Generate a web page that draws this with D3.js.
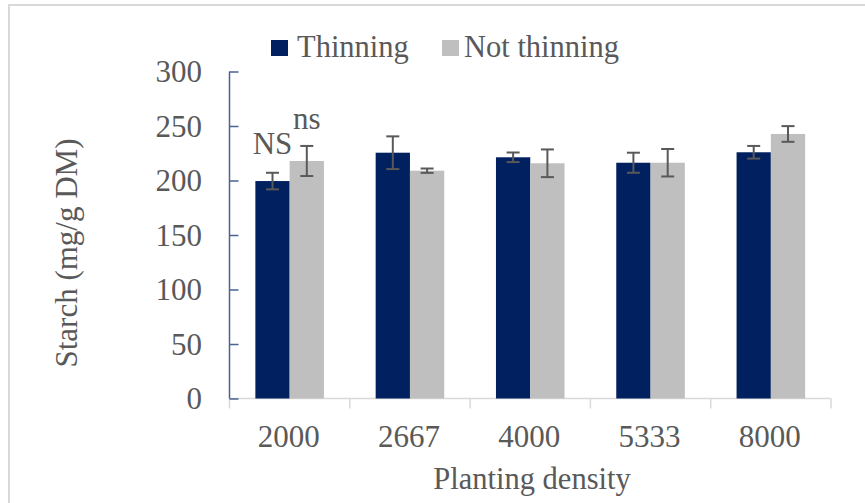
<!DOCTYPE html>
<html>
<head>
<meta charset="utf-8">
<script src="https://cdn.jsdelivr.net/npm/d3@7/dist/d3.min.js"></script>
<style>
  html, body { margin: 0; padding: 0; background: #fff; }
  svg { display: block; }
  text { font-family: "Liberation Serif", "Times New Roman", serif; fill: #595959; }
</style>
</head>
<body>
<svg id="chart" width="865" height="503"></svg>
<script>
// Planting densities on the x axis
const densities = ["2000", "2667", "4000", "5333", "8000"];
// Series names
const seriesNames = ["Thinning", "Not thinning"];
// Mean starch content (mg/g DM)
const thinning = [199.5, 225.5, 221.3, 216.3, 225.9];
const notThinning = [217.9, 209.0, 215.8, 216.3, 242.7];
// Error bar half-widths
const thinningErr = [7.6, 15.0, 4.4, 9.2, 5.8];
const notThinningErr = [13.8, 2.0, 12.7, 12.6, 7.2];
// Y axis ticks
const yTicks = [0, 50, 100, 150, 200, 250, 300];
// Significance annotations for the first group (baseline level in axis units)
const sigLabels = [
  { group: "2000", series: 0, text: "NS", value: 224 },
  { group: "2000", series: 1, text: "ns", value: 247 }
];

const colors = ["#002060", "#bfbfbf"];

const svg = d3.select("#chart");
const W = 865, H = 503;

// outer frame
svg.append("rect")
  .attr("x", 9).attr("y", 5)
  .attr("width", W + 20).attr("height", H + 20)
  .attr("fill", "none").attr("stroke", "#d9d9d9").attr("stroke-width", 2);

const plot = { left: 229.5, right: 831, top: 71.5, bottom: 398.5 };

const x0 = d3.scaleBand().domain(densities)
  .range([plot.left, plot.right]).paddingInner(0.43).paddingOuter(0.215);
const x1 = d3.scaleBand().domain([0, 1]).range([0, x0.bandwidth()]);
const y = d3.scaleLinear().domain([0, 300]).range([plot.bottom, plot.top]);

// x axis baseline and category separators
const xEdges = d3.scaleBand().domain(densities).range([plot.left, plot.right]);
const xAxisG = svg.append("g");
xAxisG.append("line")
  .attr("x1", plot.left).attr("x2", plot.right)
  .attr("y1", plot.bottom).attr("y2", plot.bottom)
  .attr("stroke", "#d9d9d9").attr("stroke-width", 1.5);
const edges = densities.map(d => xEdges(d)).concat([plot.right]);
xAxisG.selectAll("line.sep").data(edges).join("line")
  .attr("class", "sep")
  .attr("x1", d => d).attr("x2", d => d)
  .attr("y1", plot.bottom).attr("y2", plot.bottom + 10)
  .attr("stroke", "#d9d9d9").attr("stroke-width", 1.5);

// bars
const series = [
  { vals: thinning, errs: thinningErr },
  { vals: notThinning, errs: notThinningErr }
];
series.forEach((s, si) => {
  const g = svg.append("g");
  g.selectAll("rect").data(densities).join("rect")
    .attr("x", d => x0(d) + x1(si))
    .attr("width", x1.bandwidth())
    .attr("y", (d, i) => y(s.vals[i]))
    .attr("height", (d, i) => y(0) - y(s.vals[i]))
    .attr("fill", colors[si]);
});

// error bars
series.forEach((s, si) => {
  const g = svg.append("g").attr("stroke", "#595959").attr("stroke-width", 2);
  densities.forEach((d, i) => {
    const cx = x0(d) + x1(si) + x1.bandwidth() / 2;
    const hi = y(s.vals[i] + s.errs[i]);
    const lo = y(s.vals[i] - s.errs[i]);
    g.append("line").attr("x1", cx).attr("x2", cx).attr("y1", hi).attr("y2", lo);
    g.append("line").attr("x1", cx - 6.5).attr("x2", cx + 6.5).attr("y1", hi).attr("y2", hi);
    g.append("line").attr("x1", cx - 6.5).attr("x2", cx + 6.5).attr("y1", lo).attr("y2", lo);
  });
});

// y axis (ticks point into the plot)
const yAxis = d3.axisRight(y).tickValues(yTicks).tickSize(9).tickFormat("");
const yG = svg.append("g").attr("transform", `translate(${plot.left},0)`).call(yAxis);
yG.select(".domain").remove();
yG.selectAll("line").attr("stroke", "#4a6291").attr("stroke-width", 1.5);
yG.append("line")
  .attr("x1", 0).attr("x2", 0).attr("y1", plot.top).attr("y2", plot.bottom)
  .attr("stroke", "#4a6291").attr("stroke-width", 1.5);

// y tick labels
svg.append("g").selectAll("text").data(yTicks).join("text")
  .attr("x", 202).attr("y", d => y(d) + 10.5)
  .attr("text-anchor", "end")
  .attr("font-size", 31)
  .text(d => d);

// x tick labels
svg.append("g").selectAll("text").data(densities).join("text")
  .attr("x", d => x0(d) + x0.bandwidth() / 2 - 1)
  .attr("y", 446.5)
  .attr("text-anchor", "middle")
  .attr("font-size", 31)
  .text(d => d);

// axis titles
svg.append("text")
  .attr("x", 532).attr("y", 489)
  .attr("text-anchor", "middle").attr("font-size", 30.5)
  .text("Planting density");
svg.append("text")
  .attr("transform", "translate(77,253) rotate(-90)")
  .attr("text-anchor", "middle").attr("font-size", 31)
  .text("Starch (mg/g DM)");

// significance labels
svg.append("g").selectAll("text").data(sigLabels).join("text")
  .attr("x", d => x0(d.group) + x1(d.series) + x1.bandwidth() / 2)
  .attr("y", d => y(d.value))
  .attr("text-anchor", "middle")
  .attr("font-size", 31)
  .text(d => d.text);

// legend
const legendItems = [
  { name: seriesNames[0], color: colors[0], x: 271, tx: 297 },
  { name: seriesNames[1], color: colors[1], x: 442, tx: 464 }
];
const lg = svg.append("g");
legendItems.forEach(it => {
  lg.append("rect").attr("x", it.x).attr("y", 40).attr("width", 17).attr("height", 16)
    .attr("fill", it.color);
  lg.append("text").attr("x", it.tx).attr("y", 57).attr("font-size", 30.5).text(it.name);
});
</script>
</body>
</html>
